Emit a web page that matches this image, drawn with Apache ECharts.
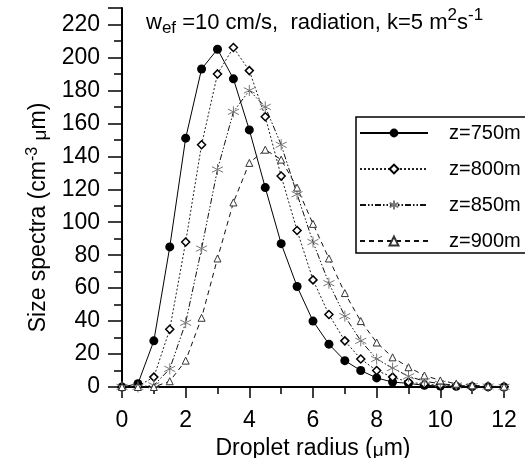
<!DOCTYPE html>
<html>
<head>
<meta charset="utf-8">
<script src="https://cdn.jsdelivr.net/npm/echarts@6/dist/echarts.min.js"></script>
<style>
  html, body { margin: 0; padding: 0; background: #fff; }
  #chart { width: 525px; height: 458px; }
</style>
</head>
<body>
<div id="chart"></div>
<script>
// droplet radius (um), every 0.5
var radius = [0, 0.5, 1, 1.5, 2, 2.5, 3, 3.5, 4, 4.5, 5, 5.5, 6, 6.5, 7, 7.5, 8, 8.5, 9, 9.5, 10, 10.5, 11, 11.5, 12];

var z750 = [0, 2, 28, 85, 151, 193, 205, 187, 156, 121, 87, 61, 40, 26, 16, 10, 5.5, 3, 2.2, 1, 0.6, 0.4, 0.2, 0.1, 0];
var z800 = [0, 0.5, 6, 35, 88, 147, 190, 206, 192, 164, 128, 95, 65, 44, 28, 17, 10, 6, 3, 1.8, 1, 0.6, 0.3, 0.2, 0.1];
var z850 = [0, 0, 1, 11, 39, 84, 132, 167, 180, 170, 147, 117, 88, 63, 43, 28, 17, 11.5, 6.5, 3.5, 2, 1, 0.5, 0.3, 0.1];
var z900 = [0, 0, 0, 3.5, 16, 42, 78, 112, 136, 144, 138, 121, 99, 78, 57, 40, 27, 18, 12, 7, 4, 2, 1, 0.5, 0.2];

var names = ['z=750m', 'z=800m', 'z=850m', 'z=900m'];

var font = 'Liberation Sans, Arial, sans-serif';
var asterisk = 'path://M0,-10L0,10M-8.66,-5L8.66,5M-8.66,5L8.66,-5';

function pairs(ys) {
    return radius.map(function (x, i) { return [x, ys[i]]; });
}

var myChart = echarts.init(document.getElementById('chart'));
var option = {
    animation: false,
    textStyle: { fontFamily: font, color: '#000' },
    title: {
        left: 141,
        top: 2,
        text: '{n|w}{sub|ef}{n| =10 cm/s,  radiation, k=5 m}{sup|2}{n|s}{sup|-1}',
        textStyle: {
            fontWeight: 'normal',
            rich: {
                n: { fontSize: 22, fontWeight: 'normal', fontFamily: font, color: '#000' },
                sub: { fontSize: 17, fontWeight: 'normal', fontFamily: font, color: '#000', padding: [11, 0, 0, 0] },
                sup: { fontSize: 17, fontWeight: 'normal', fontFamily: font, color: '#000', padding: [0, 0, 14, 0] }
            }
        }
    },
    legend: {
        orient: 'vertical',
        left: 356,
        top: 117,
        padding: [5, 40, 1, 3],
        itemGap: 14,
        itemWidth: 68,
        itemHeight: 11,
        borderColor: '#000',
        borderWidth: 1.5,
        backgroundColor: '#fff',
        textStyle: { fontSize: 20, lineHeight: 22, fontFamily: font, color: '#000', padding: [0, 0, 0, 16] },
        data: names
    },
    grid: { left: 122, right: 21, top: 8, bottom: 71, outerBoundsMode: 'none', containLabel: false },
    xAxis: {
        type: 'value',
        min: 0,
        max: 12,
        interval: 2,
        name: 'Droplet radius ({mu|μ}m)',
        nameLocation: 'middle',
        nameGap: 45,
        nameTextStyle: {
            fontSize: 23, fontFamily: font, color: '#000',
            rich: { mu: { fontSize: 19, fontFamily: font, color: '#000', padding: [5, 0, 0, 0] } }
        },
        axisLine: { onZero: false, lineStyle: { color: '#000', width: 2 } },
        axisTick: { length: 11, lineStyle: { width: 1.5 } },
        minorTick: { show: true, splitNumber: 2, length: 7, lineStyle: { color: '#000', width: 1.5 } },
        axisLabel: { fontSize: 23, color: '#000', margin: 22 },
        splitLine: { show: false }
    },
    yAxis: {
        type: 'value',
        min: 0,
        max: 230,
        interval: 20,
        name: 'Size spectra (cm{sup|-3} {mu|μ}m)',
        nameLocation: 'middle',
        nameGap: 64,
        nameTextStyle: {
            fontSize: 23, fontFamily: font, color: '#000', padding: [0, 40, 0, 0],
            rich: {
                sup: { fontSize: 16, fontFamily: font, color: '#000', padding: [0, 0, 13, 0] },
                mu: { fontSize: 19, fontFamily: font, color: '#000', padding: [5, 0, 0, 0] }
            }
        },
        axisLine: { show: true, lineStyle: { color: '#000', width: 2 } },
        axisTick: { length: 14, lineStyle: { width: 1.5 } },
        minorTick: { show: true, splitNumber: 2, length: 8, lineStyle: { color: '#000', width: 1.5 } },
        axisLabel: { fontSize: 23, color: '#000', margin: 22, showMaxLabel: false },
        splitLine: { show: false }
    },
    series: [{
        name: names[0],
        type: 'line',
        data: pairs(z750),
        symbol: 'circle',
        symbolSize: 9,
        itemStyle: { color: '#000' },
        lineStyle: { color: '#000', width: 1, type: 'solid' }
    }, {
        name: names[1],
        type: 'line',
        data: pairs(z800),
        symbol: 'diamond',
        symbolSize: 8,
        itemStyle: { color: '#fff', borderColor: '#000', borderWidth: 1.5 },
        lineStyle: { color: '#222', width: 1, type: [2, 2] }
    }, {
        name: names[2],
        type: 'line',
        data: pairs(z850),
        symbol: asterisk,
        symbolSize: 11,
        itemStyle: { color: 'transparent', borderColor: '#777', borderWidth: 1 },
        lineStyle: { color: '#111', width: 1, type: [6, 2, 1.5, 2, 1.5, 2] }
    }, {
        name: names[3],
        type: 'line',
        data: pairs(z900),
        symbol: 'triangle',
        symbolSize: 7,
        itemStyle: { color: '#fff', borderColor: '#333', borderWidth: 1 },
        lineStyle: { color: '#111', width: 1, type: [5, 4] }
    }]
};
myChart.setOption(option);
</script>
</body>
</html>
